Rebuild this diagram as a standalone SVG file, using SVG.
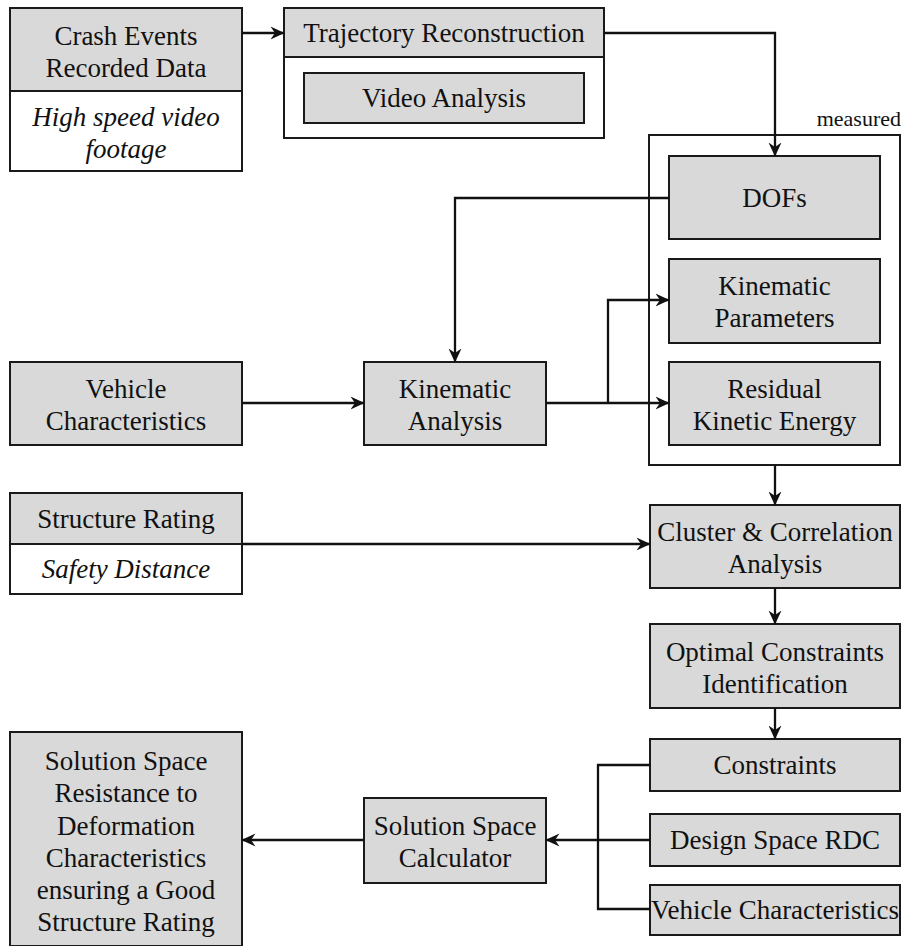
<svg xmlns="http://www.w3.org/2000/svg" width="904" height="946" viewBox="0 0 904 946">
  <style>
    .box { fill: #d9d9d9; stroke: #1a1a1a; stroke-width: 2; }
    .frame { fill: #ffffff; stroke: #1a1a1a; stroke-width: 2; }
    .line { fill: none; stroke: #111111; stroke-width: 2.3; }
    .arrow { fill: none; stroke: #111111; stroke-width: 2.3; marker-end: url(#head); }
    text { font-family: "Liberation Serif", "Times New Roman", serif; font-size: 27px; fill: #111111; text-anchor: middle; }
    .it { font-style: italic; }
    .small { font-size: 22px; text-anchor: end; }
  </style>
  <defs>
    <marker id="head" viewBox="0 0 14 14" refX="13.5" refY="7" markerWidth="14" markerHeight="14" markerUnits="userSpaceOnUse" orient="auto">
      <path d="M0,0.5 L14,7 L0,13.5 L4.5,7 Z" fill="#111111"/>
    </marker>
  </defs>

  <!-- source: crash events -->
  <g id="crash-events">
    <rect class="frame" x="10" y="8" width="232" height="163"/>
    <rect class="box" x="10" y="8" width="232" height="83"/>
    <text x="126" y="45">Crash Events</text>
    <text x="126" y="77">Recorded Data</text>
    <text class="it" x="126" y="126">High speed video</text>
    <text class="it" x="126" y="158">footage</text>
  </g>

  <g id="trajectory-reconstruction">
    <rect class="frame" x="284" y="8" width="320" height="130"/>
    <rect class="box" x="284" y="8" width="320" height="49"/>
    <text x="444" y="42">Trajectory Reconstruction</text>
  </g>
  <g id="video-analysis">
    <rect class="box" x="304" y="73" width="280" height="50"/>
    <text x="444" y="107">Video Analysis</text>
  </g>

  <!-- measured quantities -->
  <g id="measured">
    <text class="small" x="901" y="126">measured</text>
    <rect class="frame" x="649" y="135" width="251" height="330"/>
  </g>
  <g id="dofs">
    <rect class="box" x="669" y="156" width="211" height="83"/>
    <text x="774.5" y="207">DOFs</text>
  </g>
  <g id="kinematic-parameters">
    <rect class="box" x="669" y="259" width="211" height="84"/>
    <text x="774.5" y="295">Kinematic</text>
    <text x="774.5" y="327">Parameters</text>
  </g>
  <g id="residual-kinetic-energy">
    <rect class="box" x="669" y="362" width="211" height="83"/>
    <text x="774.5" y="398">Residual</text>
    <text x="774.5" y="430">Kinetic Energy</text>
  </g>

  <g id="vehicle-characteristics">
    <rect class="box" x="10" y="362" width="232" height="83"/>
    <text x="126" y="398">Vehicle</text>
    <text x="126" y="430">Characteristics</text>
  </g>
  <g id="kinematic-analysis">
    <rect class="box" x="364" y="362" width="182" height="83"/>
    <text x="455" y="398">Kinematic</text>
    <text x="455" y="430">Analysis</text>
  </g>

  <g id="structure-rating">
    <rect class="frame" x="10" y="493" width="232" height="101"/>
    <rect class="box" x="10" y="493" width="232" height="51"/>
    <text x="126" y="528">Structure Rating</text>
    <text class="it" x="126" y="578">Safety Distance</text>
  </g>

  <g id="cluster-correlation">
    <rect class="box" x="650" y="505" width="250" height="83"/>
    <text x="775" y="541">Cluster &amp; Correlation</text>
    <text x="775" y="573">Analysis</text>
  </g>
  <g id="optimal-constraints">
    <rect class="box" x="650" y="624" width="250" height="84"/>
    <text x="775" y="661">Optimal Constraints</text>
    <text x="775" y="693">Identification</text>
  </g>
  <g id="constraints">
    <rect class="box" x="650" y="739" width="250" height="52"/>
    <text x="775" y="774">Constraints</text>
  </g>
  <g id="design-space-rdc">
    <rect class="box" x="650" y="814" width="250" height="52"/>
    <text x="775" y="849">Design Space RDC</text>
  </g>
  <g id="vehicle-characteristics-2">
    <rect class="box" x="650" y="885" width="250" height="50"/>
    <text x="775" y="919">Vehicle Characteristics</text>
  </g>

  <g id="solution-space-calculator">
    <rect class="box" x="364" y="798" width="182" height="85"/>
    <text x="455" y="835">Solution Space</text>
    <text x="455" y="867">Calculator</text>
  </g>
  <g id="solution-space-result">
    <rect class="box" x="10" y="732" width="232" height="214"/>
    <text x="126" y="770">Solution Space</text>
    <text x="126" y="802">Resistance to</text>
    <text x="126" y="835">Deformation</text>
    <text x="126" y="867">Characteristics</text>
    <text x="126" y="899">ensuring a Good</text>
    <text x="126" y="931">Structure Rating</text>
  </g>

  <!-- connectors, drawn on top so arrowheads inside the frame stay visible -->
  <g id="connectors">
    <path class="arrow" d="M242,33 H284"/>
    <path class="arrow" d="M604,33 H775 V156"/>
    <path class="arrow" d="M669,198 H455 V362"/>
    <path class="arrow" d="M242,403 H364"/>
    <path class="arrow" d="M546,403 H669"/>
    <path class="arrow" d="M608,403 V300 H669"/>
    <path class="arrow" d="M775,465 V505"/>
    <path class="arrow" d="M242,544 H650"/>
    <path class="arrow" d="M775,588 V624"/>
    <path class="arrow" d="M775,708 V739"/>
    <path class="line" d="M650,765 H598 V909 H650"/>
    <path class="line" d="M650,840 H598"/>
    <path class="arrow" d="M598,840 H546"/>
    <path class="arrow" d="M364,840 H242"/>
  </g>
</svg>
